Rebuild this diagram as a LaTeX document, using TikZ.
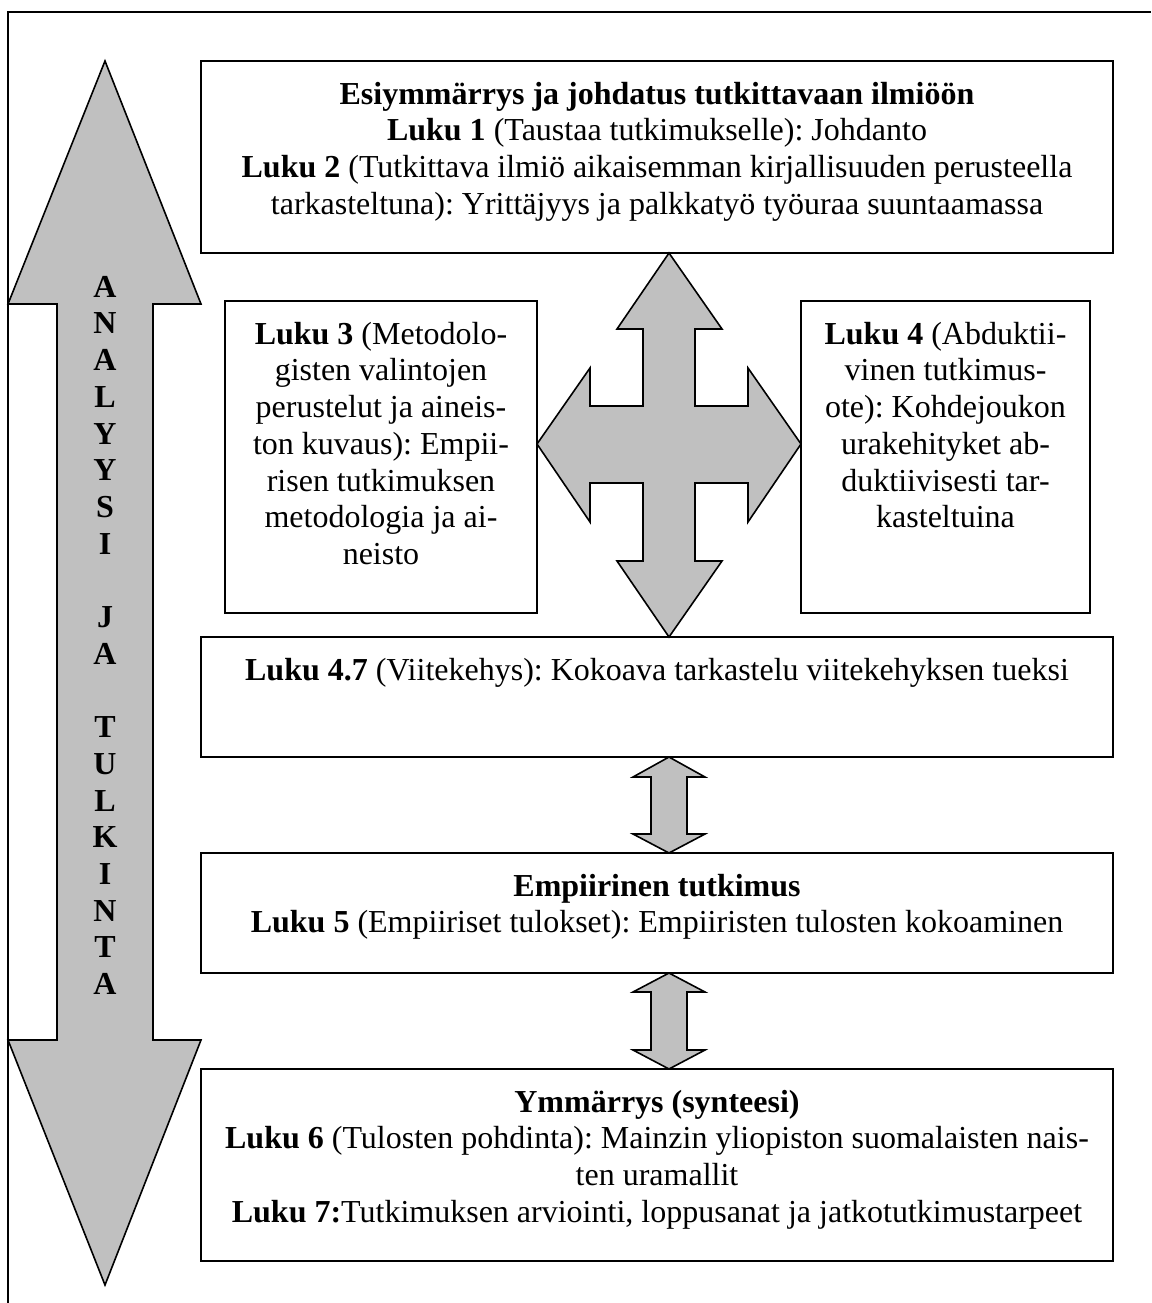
\documentclass[tikz,border=0pt]{standalone}
\usepackage{fontspec}
\setmainfont{Liberation Serif}
\usetikzlibrary{calc}
\definecolor{arrowgray}{HTML}{C0C0C0}
\frenchspacing
\begin{document}
\begin{tikzpicture}[x=1pt,y=-1pt,
  box/.style={draw, line width=1.6pt, inner sep=0pt, outer sep=0pt},
  txt/.style={font=\fontsize{32}{36.7}\selectfont\frenchspacing, align=center, inner sep=0pt, anchor=north},
  blockarrow/.style={draw, fill=arrowgray, line width=1.6pt, line join=miter},
  frameline/.style={line width=2.4pt}]
\useasboundingbox (0,0) rectangle (1151,1303);

% outer frame (top and left only)
\draw[frameline] (8,1303) -- (8,12) -- (1151,12);

% boxes
\node[box, minimum width=912, minimum height=192] (b1) at (657,157) {};
\node[box, minimum width=312, minimum height=312] (b3) at (381,457) {};
\node[box, minimum width=289, minimum height=312] (b4) at (945.5,457) {};
\node[box, minimum width=912, minimum height=120] (b47) at (657,697) {};
\node[box, minimum width=912, minimum height=120] (b5) at (657,913) {};
\node[box, minimum width=912, minimum height=192] (b6) at (657,1165) {};

% texts
\node[txt] (t1) at ($(b1.north)+(0,19)$) {\rule{0pt}{24pt}\textbf{Esiymmärrys ja johdatus tutkittavaan ilmiöön}\\
  \textbf{Luku 1} (Taustaa tutkimukselle): Johdanto\\
  \textbf{Luku 2} (Tutkittava ilmiö aikaisemman kirjallisuuden perusteella\\
  tarkasteltuna): Yrittäjyys ja palkkatyö työuraa suuntaamassa};
\node[txt] (t3) at ($(b3.north)+(0,19)$) {\rule{0pt}{24pt}\textbf{Luku 3} (Metodolo-\\gisten valintojen\\perustelut ja aineis-\\ton kuvaus): Empii-\\risen tutkimuksen\\metodologia ja ai-\\neisto};
\node[txt] (t4) at ($(b4.north)+(0,19)$) {\rule{0pt}{24pt}\textbf{Luku 4} (Abduktii-\\vinen tutkimus-\\ote): Kohdejoukon\\urakehityket ab-\\duktiivisesti tar-\\kasteltuina};
\node[txt] (t47) at ($(b47.north)+(0,19)$) {\rule{0pt}{24pt}\textbf{Luku 4.7} (Viitekehys): Kokoava tarkastelu viitekehyksen tueksi};
\node[txt] (t5) at ($(b5.north)+(0,19)$) {\rule{0pt}{24pt}\textbf{Empiirinen tutkimus}\\
  \textbf{Luku 5} (Empiiriset tulokset): Empiiristen tulosten kokoaminen};
\node[txt] (t6) at ($(b6.north)+(0,19)$) {\rule{0pt}{24pt}\textbf{Ymmärrys (synteesi)}\\
  \textbf{Luku 6} (Tulosten pohdinta): Mainzin yliopiston suomalaisten nais-\\
  ten uramallit\\
  \textbf{Luku 7:}Tutkimuksen arviointi, loppusanat ja jatkotutkimustarpeet};

% big vertical double arrow
\draw[blockarrow] (105,61) -- (201,304) -- (153,304) -- (153,1040) -- (201,1040)
  -- (105,1285) -- (8,1040) -- (57,1040) -- (57,304) -- (8,304) -- cycle;
\node[txt, font=\fontsize{32}{36.7}\selectfont\bfseries] (vt) at (105,273)
  {\rule{0pt}{24pt}A\\N\\A\\L\\Y\\Y\\S\\I\\\mbox{}\\J\\A\\\mbox{}\\T\\U\\L\\K\\I\\N\\T\\A};

% four-way arrow between the boxes
\coordinate (cc) at (669,444);
\draw[blockarrow] (b1.south -| cc) -- ++(53,76) -- ++(-27,0) -- ($(cc)+(26,-38)$)
  -- ++(53,0) -- ++(0,-38) -- (b4.west |- cc) -- ++(-53,78) -- ++(0,-39)
  -- ($(cc)+(26,39)$) -- ++(0,78) -- ++(27,0) -- (b47.north -| cc)
  -- ++(-52,-76) -- ++(26,0) -- ($(cc)+(-26,39)$) -- ++(-53,0) -- ++(0,39)
  -- (b3.east |- cc) -- ++(53,-76) -- ++(0,38) -- ($(cc)+(-26,-38)$)
  -- ++(0,-77) -- ++(-26,0) -- cycle;

% small vertical double arrows
\draw[blockarrow] (b47.south -| cc) -- ++(36,20) -- ++(-18,0) -- ($(b5.north -| cc)+(18,-19)$)
  -- ++(18,0) -- (b5.north -| cc) -- ++(-36,-19) -- ++(18,0)
  -- ($(b47.south -| cc)+(-18,20)$) -- ++(-18,0) -- cycle;
\draw[blockarrow] (b5.south -| cc) -- ++(36,19) -- ++(-18,0) -- ($(b6.north -| cc)+(18,-19)$)
  -- ++(18,0) -- (b6.north -| cc) -- ++(-36,-19) -- ++(18,0)
  -- ($(b5.south -| cc)+(-18,19)$) -- ++(-18,0) -- cycle;
\end{tikzpicture}
\end{document}
